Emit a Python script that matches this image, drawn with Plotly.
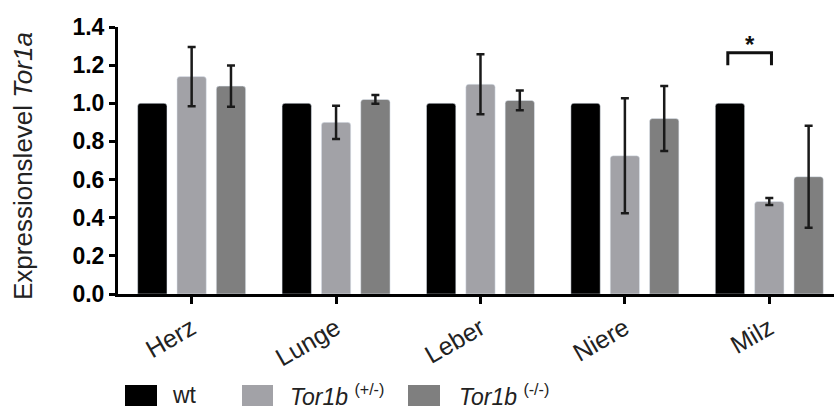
import plotly.graph_objects as go

# ---- data ----
categories = ["Herz", "Lunge", "Leber", "Niere", "Milz"]
series_names = ["wt", "<i>Tor1b</i> <sup>(+/-)</sup>", "<i>Tor1b</i> <sup>(-/-)</sup>"]
wt_values = [1.0, 1.0, 1.0, 1.0, 1.0]
het_values = [1.14, 0.90, 1.10, 0.725, 0.485]
het_errors = [0.155, 0.087, 0.157, 0.302, 0.018]
ko_values = [1.09, 1.02, 1.015, 0.92, 0.615]
ko_errors = [0.108, 0.023, 0.052, 0.170, 0.267]
y_ticks = [0.0, 0.2, 0.4, 0.6, 0.8, 1.0, 1.2, 1.4]
significance = {"category": "Milz", "from": 0, "to": 1, "label": "*",
                "top": 1.265, "leg": 1.20, "star": 1.31}

colors = ["#000000", "#a2a2a7", "#7f7f7f"]
FONT = "Liberation Sans, Arial, sans-serif"

BARGAP = 0.183
BARGROUPGAP = 0.254
n_series = 3
slot = (1 - BARGAP) / n_series

xpos = list(range(len(categories)))
fig = go.Figure()

err_style = dict(type="data", visible=True, color="#1a1a1a", thickness=2.5, width=4)

fig.add_trace(go.Bar(x=xpos, y=wt_values, name="wt", marker=dict(color=colors[0], cornerradius=3),
                     showlegend=False))
fig.add_trace(go.Bar(x=xpos, y=het_values, name="Tor1b (+/-)",
                     marker=dict(color=colors[1], cornerradius=3),
                     error_y=dict(array=het_errors, **err_style), showlegend=False))
fig.add_trace(go.Bar(x=xpos, y=ko_values, name="Tor1b (-/-)",
                     marker=dict(color=colors[2], cornerradius=3),
                     error_y=dict(array=ko_errors, **err_style), showlegend=False))

# significance bracket
ci = categories.index(significance["category"])
xa = ci + (significance["from"] - 1) * slot - 0.015
xb = ci + (significance["to"] - 1) * slot + 0.015
fig.add_trace(go.Scatter(
    x=[xa, xa, xb, xb],
    y=[significance["leg"], significance["top"], significance["top"], significance["leg"]],
    mode="lines", line=dict(color="#111111", width=3), showlegend=False,
    hoverinfo="skip", cliponaxis=False))
fig.add_annotation(x=(xa + xb) / 2, y=significance["star"], text="<b>*</b>", showarrow=False,
                   font=dict(family=FONT, size=24, color="#111111"), yanchor="middle")

# ---- manual legend ----
L, R, T, B = 118, 0, 27, 115
W, H = 834, 409
pw, ph = W - L - R, H - T - B


def px_x(v):
    return (v - L) / pw


def px_y(v):
    return (H - B - v) / ph


legend_boxes = [(125, 157), (242, 273), (408, 440)]
legend_text_x = [170, 288, 457]
for name, col, (x0, x1), tx in zip(series_names, colors, legend_boxes, legend_text_x):
    fig.add_shape(type="rect", xref="paper", yref="paper",
                  x0=px_x(x0), x1=px_x(x1), y0=px_y(406), y1=px_y(385),
                  fillcolor=col, line=dict(width=0), layer="above")
    fig.add_annotation(xref="paper", yref="paper", x=px_x(tx), y=px_y(395),
                       text=name, showarrow=False, xanchor="left", yanchor="middle",
                       font=dict(family=FONT, size=23, color="#222222"))

# y-axis title as annotation for exact placement
fig.add_annotation(xref="paper", yref="paper", x=px_x(23), y=px_y(166),
                   text="Expressionslevel <i>Tor1a</i>", showarrow=False, textangle=-90,
                   xanchor="center", yanchor="middle",
                   font=dict(family=FONT, size=26, color="#222222"))

fig.update_layout(
    width=W, height=H, autosize=False,
    margin=dict(l=L, r=R, t=T, b=B, autoexpand=False),
    paper_bgcolor="white", plot_bgcolor="white",
    barmode="group", bargap=BARGAP, bargroupgap=BARGROUPGAP,
    font=dict(family=FONT, color="#111111"),
)
fig.update_xaxes(
    range=[-0.51, 4.448], automargin=False,
    tickvals=xpos, ticktext=categories, tickangle=-30,
    tickfont=dict(family=FONT, size=25, color="#222222"),
    showline=True, linewidth=3, linecolor="black",
    ticks="outside", ticklen=7, tickwidth=3, tickcolor="black",
    showgrid=False, zeroline=False,
)
fig.update_yaxes(
    range=[0, 1.4], automargin=False,
    tickvals=y_ticks, ticktext=[f"{v:.1f}" for v in y_ticks],
    tickfont=dict(family=FONT, size=23, color="black", weight="bold"),
    showline=True, linewidth=3, linecolor="black",
    ticks="outside", ticklen=6, tickwidth=3, tickcolor="black",
    showgrid=False, zeroline=False,
)

fig.write_html("out.html", config={"displayModeBar": False},
               post_script="document.body.style.margin='0';document.body.style.padding='0';"
                           "document.body.style.overflow='hidden';")
